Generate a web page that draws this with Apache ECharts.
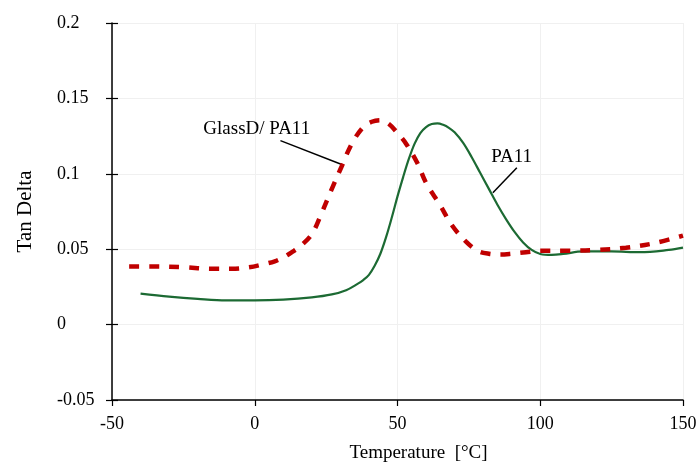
<!DOCTYPE html>
<html>
<head>
<meta charset="utf-8">
<script src="https://cdn.jsdelivr.net/npm/echarts@6/dist/echarts.min.js"></script>
<style>
html,body{margin:0;padding:0;background:#fff;}
#chart{width:700px;height:469px;}
</style>
</head>
<body>
<div id="chart"></div>
<script>
// Data (Temperature °C, Tan Delta)
var pa11Temp = [-40,-30,-20,-10,0,10,20,27,32,36,38,40,42,44,46,48,50,52,54,56,58,60,62,64,66,68,70,73,76,79,82,85,88,91,94,97,100,104,108,115,125,135,145,150];
var pa11Tan  = [0.0205,0.0185,0.017,0.016,0.016,0.0165,0.018,0.020,0.0228,0.027,0.0295,0.033,0.039,0.047,0.058,0.071,0.085,0.098,0.110,0.120,0.127,0.131,0.133,0.1335,0.1325,0.1305,0.1275,0.1205,0.111,0.1005,0.090,0.0795,0.070,0.0615,0.0545,0.0495,0.0468,0.0462,0.0468,0.0485,0.0485,0.048,0.0495,0.051];
var glassTemp = [-44,-35,-25,-15,-8,-2,3,7,10,13,16,20,23,27,30,34,38,41,44,47,50,53,57,60,65,69,74,78,82,86,90,95,100,110,120,130,140,150];
var glassTan  = [0.0385,0.0385,0.038,0.037,0.037,0.038,0.040,0.042,0.0445,0.048,0.052,0.060,0.072,0.090,0.103,0.120,0.131,0.1345,0.1355,0.133,0.127,0.120,0.107,0.094,0.079,0.066,0.055,0.049,0.047,0.0465,0.047,0.048,0.049,0.049,0.0495,0.051,0.054,0.059];
var xTicks = [-50, 0, 50, 100, 150];
var yTicks = [-0.05, 0, 0.05, 0.1, 0.15, 0.2];
var seriesNames = ['PA11', 'GlassD/ PA11'];
// annotation anchors (data coordinates)
var glassLabel = {text: 'GlassD/ PA11', at: [0.7, 0.130], line: [[9, 0.122], [30.7, 0.106]]};
var pa11Label  = {text: 'PA11', at: [90, 0.111], line: [[91.8, 0.104], [83.4, 0.0874]]};

function zip(a, b){ return a.map(function(v,i){ return [v, b[i]]; }); }

var font = '"Liberation Serif", "Times New Roman", serif';
var chart = echarts.init(document.getElementById('chart'));
chart.setOption({
  backgroundColor: '#fff',
  animation: false,
  grid: {left: 112, right: 17, top: 23, bottom: 69},
  xAxis: {
    type: 'value', min: xTicks[0], max: xTicks[xTicks.length-1], interval: 50,
    name: 'Temperature  [°C]', nameLocation: 'middle', nameGap: 44,
    nameTextStyle: {fontFamily: font, fontSize: 19, color: '#000', padding: [0,0,0,42]},
    axisLine: {onZero: false, lineStyle: {color: '#000', width: 1.5}},
    axisTick: {length: 6, lineStyle: {color: '#000', width: 1.2}},
    axisLabel: {fontFamily: font, fontSize: 18, color: '#000', margin: 15},
    splitLine: {show: true, lineStyle: {color: '#f0f0f0', width: 1}}
  },
  yAxis: [{
    type: 'value', min: yTicks[0], max: yTicks[yTicks.length-1], interval: 0.05,
    name: 'Tan Delta', nameLocation: 'middle', nameGap: 76,
    nameTextStyle: {fontFamily: font, fontSize: 21, color: '#000'},
    axisLine: {onZero: false, lineStyle: {color: '#000', width: 1.5}},
    axisTick: {show: false},
    axisLabel: {fontFamily: font, fontSize: 18, color: '#000', align: 'left', margin: 55,
      formatter: function(v){ return String(Math.round(v*100)/100); }},
    splitLine: {show: true, lineStyle: {color: '#f0f0f0', width: 1}}
  },{
    type: 'value', position: 'left', offset: -6, min: yTicks[0], max: yTicks[yTicks.length-1], interval: 0.05,
    axisLine: {show: false, onZero: false},
    axisTick: {length: 12, lineStyle: {color: '#000', width: 1.2}},
    axisLabel: {show: false},
    splitLine: {show: false}
  }],
  series: [{
    name: seriesNames[0], type: 'line', data: zip(pa11Temp, pa11Tan),
    smooth: 0.35, showSymbol: false, symbol: 'none',
    lineStyle: {color: '#1c6a33', width: 2.2}
  },{
    name: seriesNames[1], type: 'line', data: zip(glassTemp, glassTan),
    smooth: 0.35, showSymbol: false, symbol: 'none',
    lineStyle: {color: '#c00000', width: 4.5, type: [10, 10], cap: 'butt'}
  }]
});

function px(p){ return chart.convertToPixel({gridIndex: 0}, p); }
function annot(lbl){
  var c = px(lbl.at), a = px(lbl.line[0]), b = px(lbl.line[1]);
  return [{
    type: 'text', x: c[0], y: c[1],
    style: {text: lbl.text, fontFamily: font, fontSize: 19, fill: '#000', align: 'center', verticalAlign: 'middle'}
  },{
    type: 'line', shape: {x1: a[0], y1: a[1], x2: b[0], y2: b[1]},
    style: {stroke: '#000', lineWidth: 1.5}
  }];
}
chart.setOption({graphic: annot(glassLabel).concat(annot(pa11Label))});
</script>
</body>
</html>
